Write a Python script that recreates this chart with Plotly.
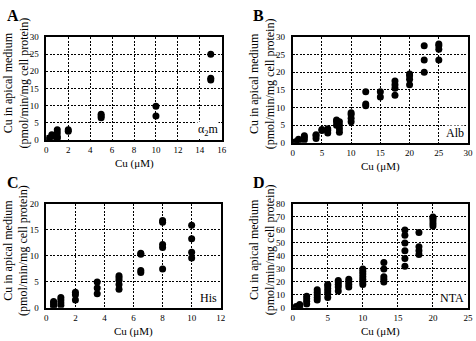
import plotly.graph_objects as go

# Panel A (alpha2m)
a_x = [0.2, 0.2, 0.5, 0.5, 1, 1, 1, 1, 2, 2, 5, 5, 5, 10, 10, 15, 15, 15]
a_y = [0, 0.5, 1, 1.5, 0.5, 1, 2, 3, 2.5, 3, 6.5, 7, 7.5, 7, 9.8, 25, 17.5, 18]

# Panel B (Alb)
b_x = [0.5, 0.5, 1, 1, 2, 2, 2, 4, 4, 4, 5, 5, 6, 6, 6, 7.5, 7.5, 7.5,
       8, 8, 8, 8, 10, 10, 10, 10, 12.5, 12.5, 12.5, 15, 15,
       17.5, 17.5, 17.5, 17.5, 20, 20, 20, 20, 22.5, 22.5, 22.5, 25, 25, 25, 25]
b_y = [0, 0.3, 0.5, 1, 0.8, 1.5, 2, 1.2, 2, 2.3, 3.5, 3.8, 2.8, 3.5, 4, 5, 6, 6.5,
       3, 4, 5, 6, 6, 7, 8, 8.5, 10.5, 11, 14.5, 13, 14.5,
       13.5, 15.5, 16.5, 17.5, 16.5, 18, 19, 19.5, 20, 23.5, 27.5, 23.5, 26.5, 27.5, 28]

# Panel C (His)
c_x = [0.5, 0.5, 0.5, 0.5, 1, 1, 1, 1, 2, 2, 2, 3.5, 3.5, 3.5,
       5, 5, 5, 5, 5, 6.5, 6.5, 6.5, 6.5, 8, 8, 8, 8, 8, 10, 10, 10, 10]
c_y = [0.3, 0.6, 1, 1.2, 0.5, 1, 1.5, 2, 1.5, 2.5, 3, 2.7, 3.8, 5,
       3.6, 4.5, 5.3, 5.8, 6.2, 6.8, 7.2, 10.3, 10.5, 7.5, 11.6, 12.2, 16.5, 16.8, 9.6, 10.7, 13.3, 15.9]

# Panel D (NTA)
d_x = [0.5, 0.5, 1, 1, 1, 2, 2, 2, 2, 3.5, 3.5, 3.5, 3.5, 3.5,
       5, 5, 5, 5, 5, 5, 6.5, 6.5, 6.5, 6.5, 6.5, 8, 8, 8, 8,
       10, 10, 10, 10, 10, 10, 10, 13, 13, 13, 13, 13,
       16, 16, 16, 16, 16, 16, 18, 18, 18, 18, 20, 20, 20, 20, 20]
d_y = [0, 1, 0.5, 1.5, 2.5, 3, 5, 7, 9, 6, 8, 10, 12, 14,
       8, 11, 13, 15, 17, 18, 13, 16, 18, 20, 21, 16, 18, 20, 22,
       18, 20, 22, 24, 26, 28, 30, 20, 22, 24, 30, 35,
       32, 38, 44, 50, 56, 60, 41, 44, 47, 58, 63, 65, 67, 69, 70]

W, H = 476, 341
FONT = "Liberation Serif"

panels = [
    dict(x=a_x, y=a_y, xr=[0, 16], xd=2, yr=[0, 30], yd=5, px=(45, 223), py=(33, 139), lab="A", tag="α<sub>2</sub>m"),
    dict(x=b_x, y=b_y, xr=[0, 30], xd=5, yr=[0, 30], yd=5, px=(295, 473), py=(33, 142), lab="B", tag="Alb"),
    dict(x=c_x, y=c_y, xr=[0, 12], xd=2, yr=[0, 20], yd=5, px=(45, 222), py=(205, 312), lab="C", tag="His"),
    dict(x=d_x, y=d_y, xr=[0, 25], xd=5, yr=[0, 80], yd=10, px=(295, 473), py=(205, 312), lab="D", tag="NTA"),
]

fig = go.Figure()
annotations = []
for i, p in enumerate(panels):
    n = "" if i == 0 else str(i + 1)
    fig.add_trace(go.Scatter(x=p["x"], y=p["y"], mode="markers",
                             marker=dict(color="black", size=7),
                             xaxis="x" + n, yaxis="y" + n, showlegend=False,
                             hoverinfo="skip"))
    xd = [p["px"][0] / W, p["px"][1] / W]
    yd = [1 - p["py"][1] / H, 1 - p["py"][0] / H]
    common = dict(showline=True, linecolor="black", linewidth=1.5, mirror=True,
                  showgrid=True, gridcolor="black", griddash="2px,1.5px", gridwidth=1,
                  zeroline=False, ticks="", tickfont=dict(family=FONT, size=9, color="black"))
    fig.update_layout(**{
        "xaxis" + n: dict(domain=xd, range=p["xr"], dtick=p["xd"], tick0=0,
                          anchor="y" + n, ticklabelstandoff=1, **common),
        "yaxis" + n: dict(domain=yd, range=p["yr"], dtick=p["yd"], tick0=0,
                          anchor="x" + n, ticklabelstandoff=4, **common),
    })
    # x title
    annotations.append(dict(text="Cu (μM)", xref="paper", yref="paper",
                            x=(p["px"][0] + p["px"][1]) / 2 / W, y=1 - (p["py"][1] + 24) / H,
                            showarrow=False, xanchor="center", yanchor="middle",
                            font=dict(family=FONT, size=11, color="black")))
    # y title
    annotations.append(dict(text="Cu in apical medium<br>(pmol/min/mg cell protein)",
                            xref="paper", yref="paper",
                            x=(p["px"][0] - 31) / W, y=1 - ((p["py"][0] + p["py"][1]) / 2 - 6) / H,
                            textangle=-90, showarrow=False, xanchor="center", yanchor="middle",
                            font=dict(family=FONT, size=12, color="black")))
    # panel letter
    annotations.append(dict(text="<b>" + p["lab"] + "</b>", xref="paper", yref="paper",
                            x=(p["px"][0] - 42) / W, y=1 - (p["py"][0] - 22) / H,
                            showarrow=False, xanchor="left", yanchor="middle",
                            font=dict(family=FONT, size=16, color="black")))
    # tag
    annotations.append(dict(text=p["tag"], xref="paper", yref="paper",
                            x=(p["px"][1] - 3) / W, y=1 - (p["py"][1] - 10) / H,
                            showarrow=False, xanchor="right", yanchor="middle",
                            bgcolor="white", borderpad=0,
                            font=dict(family=FONT, size=12, color="black")))

fig.update_layout(width=W, height=H, margin=dict(l=0, r=0, t=0, b=0),
                  paper_bgcolor="white", plot_bgcolor="white",
                  annotations=annotations, font=dict(family=FONT))
fig.write_html("out.html", config={"displayModeBar": False},
               post_script="document.body.style.margin='0';document.body.style.padding='0';")
